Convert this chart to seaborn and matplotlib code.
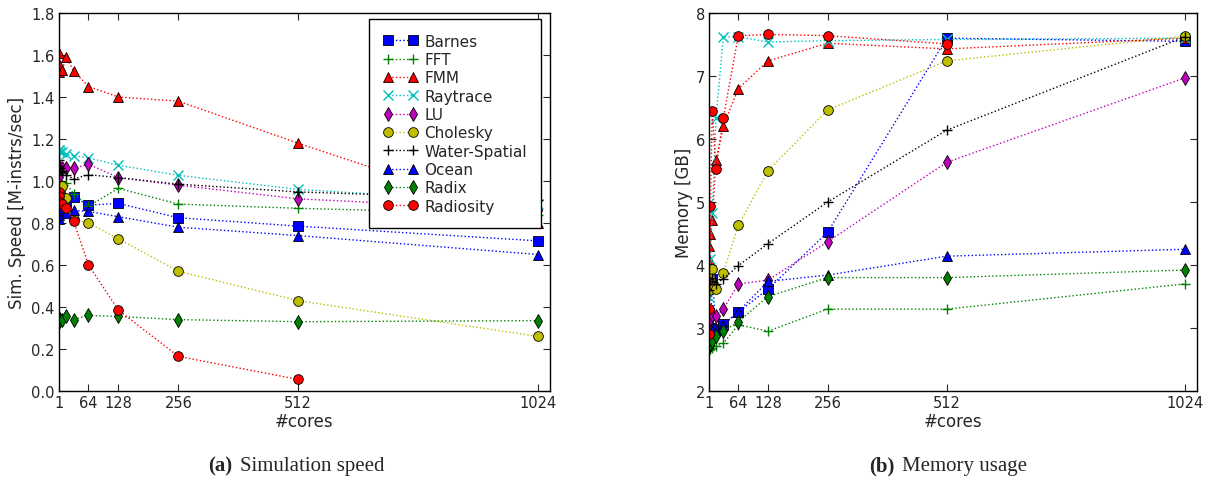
import matplotlib
matplotlib.use("Agg")
import matplotlib.pyplot as plt
import seaborn as sns

sns.set_style("ticks")
plt.rcParams["font.family"] = ["DejaVu Sans"]

cores = [1, 2, 4, 8, 16, 32, 64, 128, 256, 512, 1024]

# Simulation speed [M-instrs/sec]
barnes_speed = [0.86, 0.85, 0.87, 0.88, 0.90, 0.925, 0.885, 0.893, 0.825, 0.785, 0.715]
fft_speed = [0.97, 1.00, 0.99, 0.98, 0.99, 0.94, 0.88, 0.965, 0.89, 0.87, 0.84]
fmm_speed = [1.52, 1.61, 1.55, 1.53, 1.59, 1.525, 1.45, 1.40, 1.38, 1.18, 0.80]
raytrace_speed = [1.15, 1.15, 1.14, 1.14, 1.13, 1.12, 1.11, 1.075, 1.027, 0.96, 0.89]
lu_speed = [1.02, 1.06, 1.06, 1.064, 1.064, 1.06, 1.08, 1.016, 0.98, 0.915, 0.86]
cholesky_speed = [0.85, 0.90, 0.95, 0.975, 0.92, 0.82, 0.80, 0.725, 0.57, 0.43, 0.26]
water_speed = [1.10, 1.07, 1.06, 1.05, 1.03, 1.01, 1.03, 1.016, 0.985, 0.948, 0.91]
ocean_speed = [0.82, 0.84, 0.86, 0.87, 0.85, 0.86, 0.855, 0.83, 0.78, 0.74, 0.65]
radix_speed = [0.35, 0.33, 0.34, 0.34, 0.355, 0.34, 0.36, 0.355, 0.34, 0.33, 0.335]
radiosity_speed = [0.95, 0.93, 0.90, 0.89, 0.87, 0.81, 0.60, 0.385, 0.165, 0.055]

# Memory usage [GB]
barnes_mem = [2.85, 2.9, 3.0, 3.78, 2.98, 3.06, 3.25, 3.62, 4.52, 7.6, 7.55]
fft_mem = [2.65, 2.66, 2.67, 2.68, 2.71, 2.76, 3.05, 2.95, 3.30, 3.30, 3.70]
fmm_mem = [4.1, 4.3, 4.5, 4.72, 5.66, 6.21, 6.80, 7.24, 7.52, 7.43, 7.6]
raytrace_mem = [3.5, 3.8, 4.1, 4.83, 6.34, 7.62, 7.62, 7.54, 7.56, 7.58, 7.6]
lu_mem = [3.0, 3.1, 3.15, 3.2, 3.19, 3.3, 3.70, 3.76, 4.37, 5.63, 6.97]
cholesky_mem = [3.6, 3.7, 3.8, 3.94, 3.62, 3.88, 4.63, 5.5, 6.46, 7.24, 7.63]
water_mem = [3.6, 3.7, 3.75, 3.8, 3.7, 3.78, 3.99, 4.34, 5.0, 6.14, 7.62]
ocean_mem = [2.8, 2.85, 2.9, 2.95, 2.97, 3.05, 3.26, 3.74, 3.84, 4.14, 4.25]
radix_mem = [2.7, 2.72, 2.75, 2.79, 2.87, 2.95, 3.1, 3.5, 3.8, 3.8, 3.92]
radiosity_mem = [2.9, 3.3, 4.94, 6.45, 5.53, 6.34, 7.64, 7.66, 7.64, 7.51]

benchmarks = ["Barnes", "FFT", "FMM", "Raytrace", "LU", "Cholesky",
              "Water-Spatial", "Ocean", "Radix", "Radiosity"]
speed = [barnes_speed, fft_speed, fmm_speed, raytrace_speed, lu_speed,
         cholesky_speed, water_speed, ocean_speed, radix_speed, radiosity_speed]
memory = [barnes_mem, fft_mem, fmm_mem, raytrace_mem, lu_mem,
          cholesky_mem, water_mem, ocean_mem, radix_mem, radiosity_mem]

styles = {
    "Barnes": ("#0000ff", "s"),
    "FFT": ("#008000", "+"),
    "FMM": ("#ff0000", "^"),
    "Raytrace": ("#00bfbf", "x"),
    "LU": ("#bf00bf", "d"),
    "Cholesky": ("#bfbf00", "o"),
    "Water-Spatial": ("#000000", "+"),
    "Ocean": ("#0000ff", "^"),
    "Radix": ("#008000", "d"),
    "Radiosity": ("#ff0000", "o"),
}

fig = plt.figure(figsize=(12.09, 4.81), dpi=100)
ax1 = fig.add_axes([59 / 1209, 89 / 481, 491 / 1209, 378 / 481])
ax2 = fig.add_axes([709 / 1209, 89 / 481, 488 / 1209, 378 / 481])

tick_fs = 10.5


def draw(ax, table):
    for name, vals in zip(benchmarks, table):
        color, marker = styles[name]
        filled = marker not in ("+", "x")
        sns.lineplot(
            x=cores[:len(vals)], y=vals, ax=ax, color=color, marker=marker,
            linestyle=":", linewidth=1.0, markersize=7,
            markeredgecolor="k" if filled else color,
            markeredgewidth=0.6 if filled else 1.0,
            label=name, legend=False, errorbar=None, sort=False,
        )
    ax.set_xlim(1, 1050)
    ax.set_xticks([1, 64, 128, 256, 512, 1024])
    ax.set_xlabel("#cores", fontsize=tick_fs + 1.5, labelpad=1)
    ax.tick_params(direction="in", top=True, right=True, length=5,
                   width=0.8, labelsize=tick_fs, pad=3)
    for s in ax.spines.values():
        s.set_linewidth(1.0)
        s.set_color("k")


draw(ax1, speed)
draw(ax2, memory)

ax1.set_ylim(0, 1.8)
ax1.set_yticks([0.0, 0.2, 0.4, 0.6, 0.8, 1.0, 1.2, 1.4, 1.6, 1.8])
ax1.set_yticklabels([f"{v:.1f}" for v in ax1.get_yticks()])
ax1.set_ylabel("Sim. Speed [M-instrs/sec]", fontsize=tick_fs + 1.5, labelpad=4)

ax2.set_ylim(2, 8)
ax2.set_yticks(range(2, 9))
ax2.set_ylabel("Memory [GB]", fontsize=tick_fs + 1.5, labelpad=2)

leg = ax1.legend(numpoints=2, loc="upper right", bbox_to_anchor=(0.982, 0.984),
                 fontsize=tick_fs + 0.5, frameon=True, fancybox=False,
                 handlelength=2.2, handletextpad=0.45, labelspacing=0.22,
                 borderpad=0.95, borderaxespad=0.0, framealpha=1.0)
leg.get_frame().set_edgecolor("k")
leg.get_frame().set_linewidth(1.0)
leg.set_zorder(10)

# sub-figure captions: bold tag followed by the title, centred as a pair
cap_y = 1 - 466 / 481
renderer = fig.canvas.get_renderer()
for tag, title, centre in [("(a)", "Simulation speed", 296),
                           ("(b)", "Memory usage", 948)]:
    t1 = fig.text(0, cap_y, tag, ha="left", va="center", fontsize=15,
                  family="Liberation Serif", weight="bold")
    t2 = fig.text(0, cap_y, title, ha="left", va="center", fontsize=15,
                  family="Liberation Serif")
    w1 = t1.get_window_extent(renderer).width
    w2 = t2.get_window_extent(renderer).width
    gap = 8
    left = centre - (w1 + gap + w2) / 2
    t1.set_x(left / 1209)
    t2.set_x((left + w1 + gap) / 1209)

fig.savefig("out.png", dpi=100)
